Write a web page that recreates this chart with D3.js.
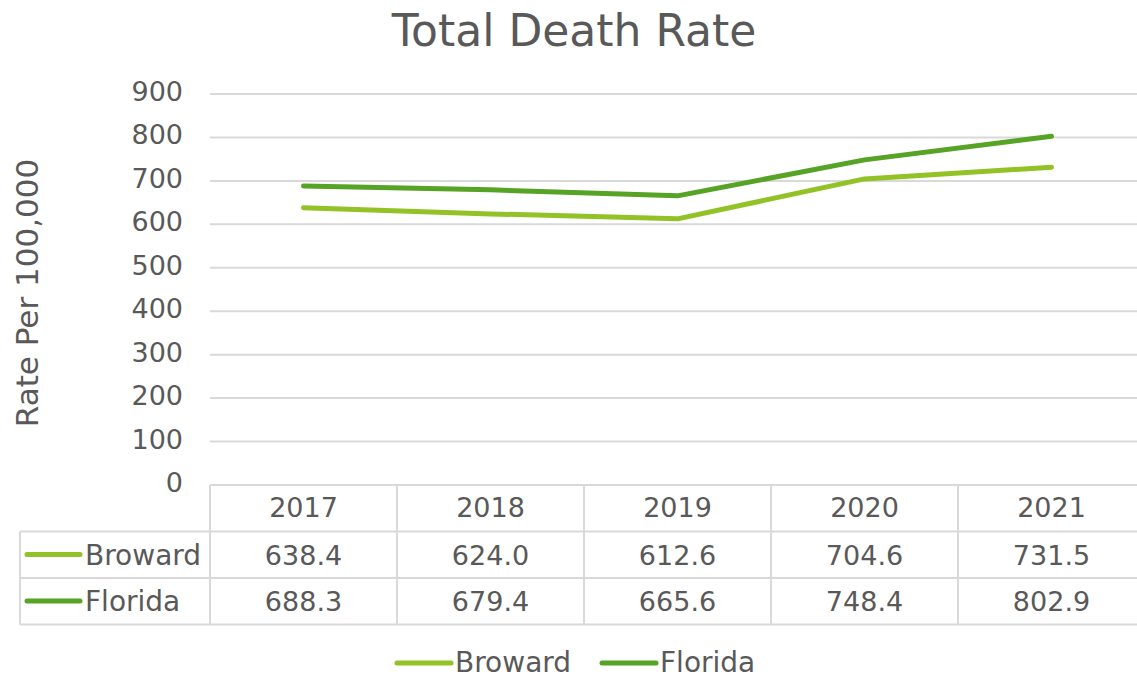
<!DOCTYPE html>
<html><head><meta charset="utf-8">
<script src="https://cdn.jsdelivr.net/npm/d3@7"></script>
<style>body{margin:0;background:#fff;} text{font-family:"DejaVu Sans",sans-serif;fill:#595959;}</style>
</head><body><svg id="c" width="1137" height="678"></svg>
<script>
const years = ["2017","2018","2019","2020","2021"];
const broward = [638.4, 624.0, 612.6, 704.6, 731.5];
const florida = [688.3, 679.4, 665.6, 748.4, 802.9];
const yTicks = [0,100,200,300,400,500,600,700,800,900];
const seriesNames = ["Broward","Florida"];
const colors = ["#92c225","#57a325"];
const series = [broward, florida];

(function(){
const svg = d3.select("#c");
const pLeft = 210, pRight = 1145, pTop = 94, pBottom = 485;
const x = d3.scaleBand().domain(years).range([pLeft,pRight]);
const y = d3.scaleLinear().domain([0,900]).range([pBottom,pTop]);
const grid = "#d9d9d9";

svg.append("text").attr("x",574).attr("y",46).attr("text-anchor","middle")
  .style("font-size","44px").text("Total Death Rate");

svg.append("text").attr("transform","translate(38,293) rotate(-90)").attr("text-anchor","middle")
  .style("font-size","31px").text("Rate Per 100,000");

svg.append("g").selectAll("line").data(yTicks).join("line")
  .attr("x1",pLeft).attr("x2",pRight).attr("y1",d=>y(d)).attr("y2",d=>y(d))
  .attr("stroke",grid).attr("stroke-width",2);

svg.append("g").selectAll("text").data(yTicks).join("text")
  .attr("x",183).attr("y",d=>y(d)+7).attr("text-anchor","end")
  .style("font-size","27px").text(d=>d);

const line = d3.line().x((d,i)=>x(years[i])+x.bandwidth()/2).y(d=>y(d));
series.forEach((s,k)=>{
  svg.append("path").attr("d",line(s)).attr("fill","none").attr("stroke",colors[k])
    .attr("stroke-width",5).attr("stroke-linecap","round").attr("stroke-linejoin","round");
});

const rowH = 46.5;
const rows = [pBottom, pBottom+rowH, pBottom+2*rowH, pBottom+3*rowH];
const tbl = svg.append("g");
[1,2,3].forEach(r=>{
  tbl.append("line").attr("x1",20).attr("x2",pRight).attr("y1",rows[r]).attr("y2",rows[r]).attr("stroke",grid).attr("stroke-width",2);
});
tbl.append("line").attr("x1",20).attr("x2",20).attr("y1",rows[1]).attr("y2",rows[3]).attr("stroke",grid).attr("stroke-width",2);
years.forEach(yr=>{
  const xx = x(yr);
  tbl.append("line").attr("x1",xx).attr("x2",xx).attr("y1",rows[0]).attr("y2",rows[3]).attr("stroke",grid).attr("stroke-width",2);
});

years.forEach(yr=>{
  tbl.append("text").attr("x",x(yr)+x.bandwidth()/2).attr("y",rows[0]+32).attr("text-anchor","middle")
    .style("font-size","27px").text(yr);
});
series.forEach((s,k)=>{
  const ry = rows[k+1];
  tbl.append("line").attr("x1",27).attr("x2",80).attr("y1",ry+23).attr("y2",ry+23)
    .attr("stroke",colors[k]).attr("stroke-width",5).attr("stroke-linecap","round");
  tbl.append("text").attr("x",85).attr("y",ry+33).style("font-size","28px").text(seriesNames[k]);
  s.forEach((v,i)=>{
    tbl.append("text").attr("x",x(years[i])+x.bandwidth()/2).attr("y",ry+33).attr("text-anchor","middle")
      .style("font-size","27px").text(v.toFixed(1));
  });
});

const lg = svg.append("g");
const lx = [397, 602];
seriesNames.forEach((n,k)=>{
  lg.append("line").attr("x1",lx[k]).attr("x2",lx[k]+54).attr("y1",663).attr("y2",663)
    .attr("stroke",colors[k]).attr("stroke-width",5).attr("stroke-linecap","round");
  lg.append("text").attr("x",lx[k]+58).attr("y",672).style("font-size","28px").text(n);
});
})();
</script></body></html>
